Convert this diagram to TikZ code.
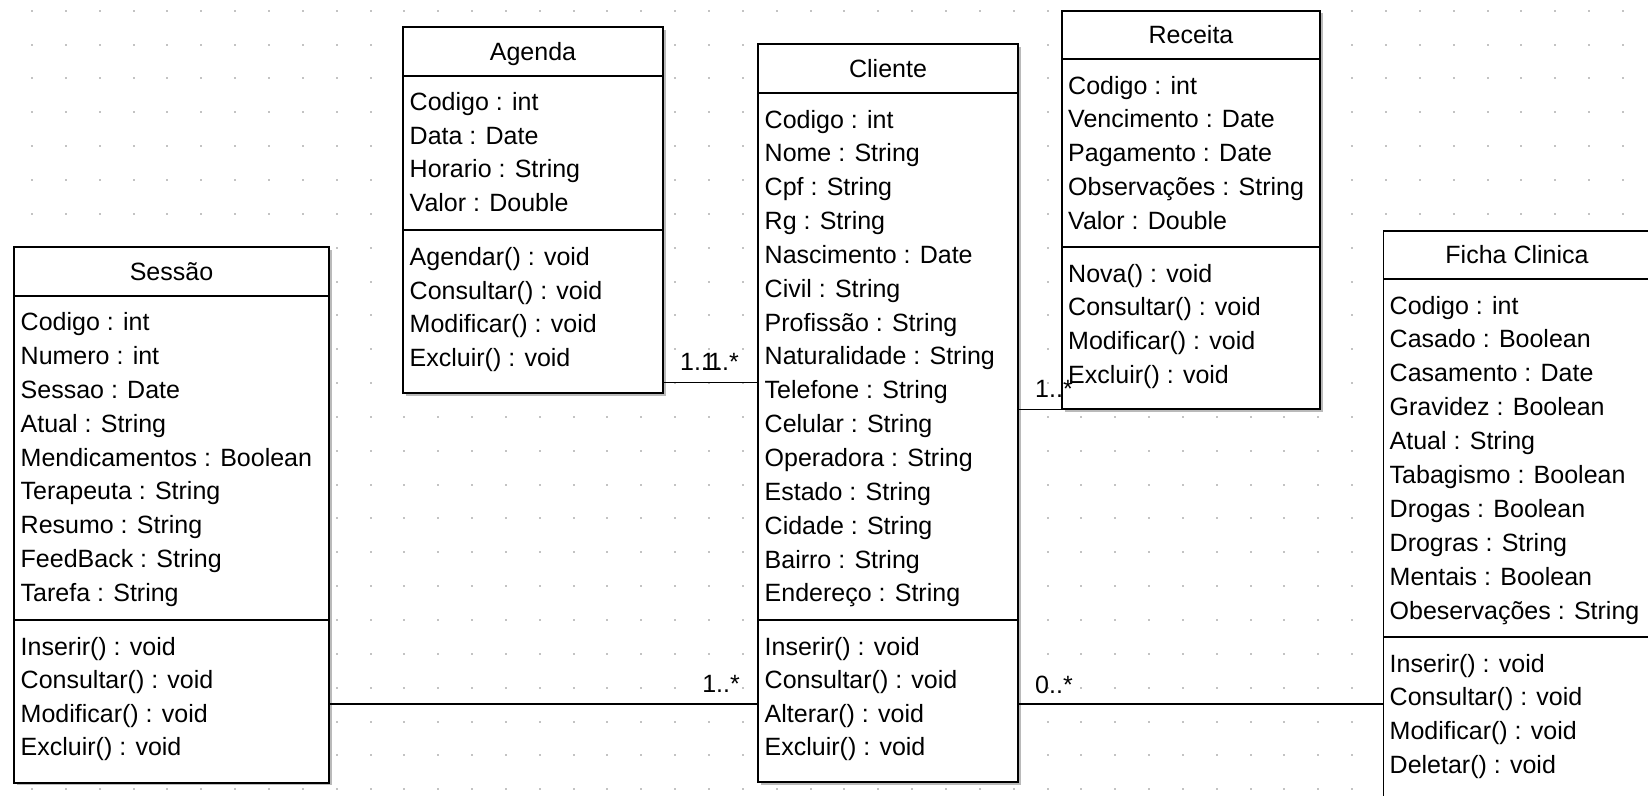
\documentclass[tikz,border=0pt]{standalone}
\usepackage{fontspec}
\setmainfont{Liberation Sans}
\usetikzlibrary{shadows}
\definecolor{dotc}{RGB}{195,195,195}
\definecolor{shadc}{RGB}{140,140,140}
\newcommand{\umlfont}{\fontsize{25}{30}\selectfont}
\begin{document}
\begin{tikzpicture}[x=1pt,y=-1pt,
  classbox/.style={draw=black, line width=1.8pt, fill=white, inner sep=0pt, outer sep=0pt,
    anchor=north west, drop shadow={shadow xshift=2.5pt, shadow yshift=-2.5pt, fill=shadc, opacity=0.6}},
  sepline/.style={line width=1.8pt},
  txt/.style={anchor=base west, inner sep=0pt, font=\umlfont},
  ttl/.style={anchor=base, inner sep=0pt, font=\umlfont},
  conn/.style={line width=1.8pt},
  mult/.style={inner sep=0pt, font=\umlfont}]
\useasboundingbox (0,0) rectangle (1648,795);
\clip (0,0) rectangle (1648,795);
\fill[white] (0,0) rectangle (1648,795);
% dotted grid
\foreach \i in {0,...,49} {
  \foreach \j in {0,...,23} {
    \fill[dotc] ({-2.85+\i*33.85},{9.7+\j*33.85}) rectangle ++(2,2);
  }
}
% connectors (drawn first, boxes cover ends)
\node[classbox, minimum width=315pt, minimum height=535.4pt] (sessao) at (14,247.3) {};
\node[classbox, minimum width=260pt, minimum height=366pt] (agenda) at (403,27.3) {};
\node[classbox, minimum width=260pt, minimum height=737.7pt] (cliente) at (758,44.3) {};
\node[classbox, minimum width=258pt, minimum height=398.6pt] (receita) at (1062,10.7) {};
\node[classbox, minimum width=267pt, minimum height=620pt] (ficha) at (1383.5,231) {};

\draw[conn] (agenda.east |- 0,382.5) -- (cliente.west |- 0,382.5);
\draw[conn] (cliente.east |- 0,409.5) -- (receita.west |- 0,409.5);
\draw[conn] (sessao.east |- 0,704) -- (cliente.west |- 0,704);
\draw[conn] (cliente.east |- 0,704) -- (ficha.west |- 0,704);

% Sessao
\draw[sepline] (sessao.west |- 0,296) -- (sessao.east |- 0,296);
\draw[sepline] (sessao.west |- 0,620) -- (sessao.east |- 0,620);
\node[ttl] (sessao-t) at (171.5,280.7) {Sessão};
\foreach [count=\k from 0] \t in {Codigo : int,Numero : int,Sessao : Date,Atual : String,Mendicamentos : Boolean,Terapeuta : String,Resumo : String,FeedBack : String,Tarefa : String}
  \node[txt] (sessao-a\k) at (20.5,{330.7+\k*33.85}) {\t};
\foreach [count=\k from 0] \t in {Inserir() : void,Consultar() : void,Modificar() : void,Excluir() : void}
  \node[txt] (sessao-m\k) at (20.5,{655+\k*33.6}) {\t};

% Agenda
\draw[sepline] (agenda.west |- 0,75.7) -- (agenda.east |- 0,75.7);
\draw[sepline] (agenda.west |- 0,230) -- (agenda.east |- 0,230);
\node[ttl] (agenda-t) at (533,60.7) {Agenda};
\foreach [count=\k from 0] \t in {Codigo : int,Data : Date,Horario : String,Valor : Double}
  \node[txt] (agenda-a\k) at (409.5,{110.7+\k*33.6}) {\t};
\foreach [count=\k from 0] \t in {Agendar() : void,Consultar() : void,Modificar() : void,Excluir() : void}
  \node[txt] (agenda-m\k) at (409.5,{265.7+\k*33.6}) {\t};

% Cliente
\draw[sepline] (cliente.west |- 0,92.7) -- (cliente.east |- 0,92.7);
\draw[sepline] (cliente.west |- 0,620) -- (cliente.east |- 0,620);
\node[ttl] (cliente-t) at (888,77.3) {Cliente};
\foreach [count=\k from 0] \t in {Codigo : int,Nome : String,Cpf : String,Rg : String,Nascimento : Date,Civil : String,Profissão : String,Naturalidade : String,Telefone : String,Celular : String,Operadora : String,Estado : String,Cidade : String,Bairro : String,Endereço : String}
  \node[txt] (cliente-a\k) at (764.5,{128+\k*33.85}) {\t};
\foreach [count=\k from 0] \t in {Inserir() : void,Consultar() : void,Alterar() : void,Excluir() : void}
  \node[txt] (cliente-m\k) at (764.5,{655+\k*33.6}) {\t};

% Receita
\draw[sepline] (receita.west |- 0,59.3) -- (receita.east |- 0,59.3);
\draw[sepline] (receita.west |- 0,247.3) -- (receita.east |- 0,247.3);
\node[ttl] (receita-t) at (1191,43) {Receita};
\foreach [count=\k from 0] \t in {Codigo : int,Vencimento : Date,Pagamento : Date,Observações : String,Valor : Double}
  \node[txt] (receita-a\k) at (1068,{94+\k*33.9}) {\t};
\foreach [count=\k from 0] \t in {Nova() : void,Consultar() : void,Modificar() : void,Excluir() : void}
  \node[txt] (receita-m\k) at (1068,{282.3+\k*33.6}) {\t};

% Ficha Clinica
\draw[sepline] (ficha.west |- 0,278.7) -- (ficha.east |- 0,278.7);
\draw[sepline] (ficha.west |- 0,637) -- (ficha.east |- 0,637);
\node[ttl] (ficha-t) at (1517,263.8) {Ficha Clinica};
\foreach [count=\k from 0] \t in {Codigo : int,Casado : Boolean,Casamento : Date,Gravidez : Boolean,Atual : String,Tabagismo : Boolean,Drogas : Boolean,Drogras : String,Mentais : Boolean,Obeservações : String}
  \node[txt] (ficha-a\k) at (1389.5,{314+\k*33.95}) {\t};
\foreach [count=\k from 0] \t in {Inserir() : void,Consultar() : void,Modificar() : void,Deletar() : void}
  \node[txt] (ficha-m\k) at (1389.5,{672+\k*33.85}) {\t};

% multiplicities
\node[mult, anchor=base west] (m-ag) at (680,370.7) {1..1};
\node[mult, anchor=base east] (m-cl1) at (739,370.7) {1..*};
\node[mult, anchor=base west] (m-re) at (1035,397) {1..*};
\node[mult, anchor=base east] (m-cl2) at (740,692) {1..*};
\node[mult, anchor=base west] (m-fi) at (1035,693) {0..*};
\end{tikzpicture}
\end{document}
